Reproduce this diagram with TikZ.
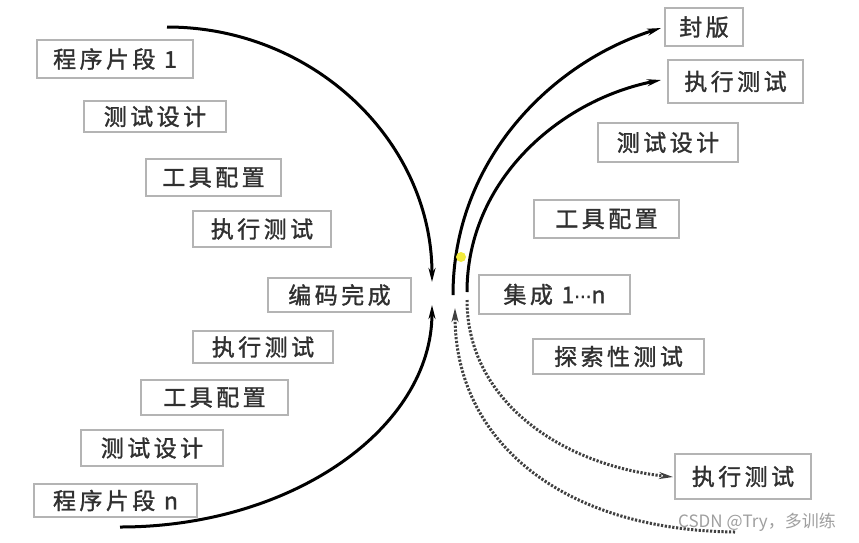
\documentclass[tikz,border=0pt]{standalone}
\usepackage{fontspec}
\newfontfamily\cjk[LetterSpace=15,FakeBold=1.3]{Noto Sans CJK SC}
\newfontfamily\wmfont{Noto Sans CJK SC}
\newfontfamily\dotfont[FakeBold=1.3]{DejaVu Sans}
\usetikzlibrary{arrows.meta}
\definecolor{boxgray}{HTML}{B4B4B4}
\definecolor{txtgray}{HTML}{303030}
\definecolor{dotgray}{HTML}{404040}
\definecolor{marker}{HTML}{F2EA3C}
\begin{document}
\begin{tikzpicture}[x=1pt,y=-1pt,
  box/.style={draw=boxgray,line width=2.2pt,inner sep=0pt,text=txtgray,
    font=\cjk\fontsize{23}{25}\selectfont},
  solidarc/.style={line width=3pt,draw=black,-{Stealth[length=14pt,width=7pt]}},
  dotarc/.style={line width=3pt,draw=dotgray,dash pattern=on 2.2pt off 1.6pt,
    -{Stealth[length=14pt,width=7pt]}}
]
\useasboundingbox (0,0) rectangle (859,542);
\fill[white] (0,0) rectangle (859,542);

% left side boxes
\node[box,minimum width=156pt,minimum height=38pt] (p1) at (115,59) {程序片段 1};
\node[box,minimum width=142pt,minimum height=31pt] (d1) at (155,116.5) {测试设计};
\node[box,minimum width=135pt,minimum height=37pt] (t1) at (213.5,177.5) {工具配置};
\node[box,minimum width=138pt,minimum height=36pt] (e1) at (262,229) {执行测试};
\node[box,minimum width=143pt,minimum height=34pt] (code) at (339.5,295) {编码完成};
\node[box,minimum width=140pt,minimum height=32pt] (e2) at (263,347) {执行测试};
\node[box,minimum width=147pt,minimum height=35pt] (t2) at (214.5,397.5) {工具配置};
\node[box,minimum width=142pt,minimum height=36pt] (d2) at (152,448) {测试设计};
\node[box,minimum width=163pt,minimum height=33pt] (pn) at (115.5,500.5) {程序片段 n};

% right side boxes
\node[box,minimum width=78pt,minimum height=38pt] (seal) at (704,27) {封版};
\node[box,minimum width=135pt,minimum height=43pt] (e3) at (735.5,81.5) {执行测试};
\node[box,minimum width=140pt,minimum height=39pt] (d3) at (668,142.5) {测试设计};
\node[box,minimum width=145pt,minimum height=38pt] (t3) at (606.5,219) {工具配置};
\node[box,minimum width=151pt,minimum height=39pt] (integ) at (554.5,294.5) {集成 1{\dotfont\fontsize{18}{20}\selectfont ···}n};
\node[box,minimum width=171pt,minimum height=35pt] (expl) at (618.5,356.5) {探索性测试};
\node[box,minimum width=136pt,minimum height=45pt] (e4) at (743,476.5) {执行测试};

% curve end points
\coordinate (lus) at (167,27);
\coordinate (lue) at (432,282);
\coordinate (lls) at (120,527);
\coordinate (lle) at (432,305);
\coordinate (ros) at (453,295);
\coordinate (roe) at (661,28);
\coordinate (ris) at (467,292);
\coordinate (rie) at (661,80);
\coordinate (dis) at (467,300);
\coordinate (die) at (673,477);
\coordinate (dos) at (735,532);
\coordinate (doe) at (455,308);

% solid arcs
\draw[solidarc] (lus) .. controls (313,27) and (432,141) .. (lue);
\draw[solidarc] (lls) .. controls (292,527) and (432,428) .. (lle);
\draw[solidarc] (ros) .. controls (453,160) and (552,62) .. (roe);
\draw[solidarc] (ris) .. controls (467,180) and (560,100) .. (rie);

% dotted arcs
\draw[dotarc] (dis) .. controls (467,400) and (560,465) .. (die);
\draw[dotarc] (dos) .. controls (560,530) and (455,440) .. (doe);

% yellow marker
\fill[marker] (461,257) circle (5pt);

% watermark
\node[font=\wmfont\fontsize{17}{18}\selectfont,text=gray!75,inner sep=0pt] (wm) at (757,522) {CSDN @Try，多训练};
\end{tikzpicture}
\end{document}
